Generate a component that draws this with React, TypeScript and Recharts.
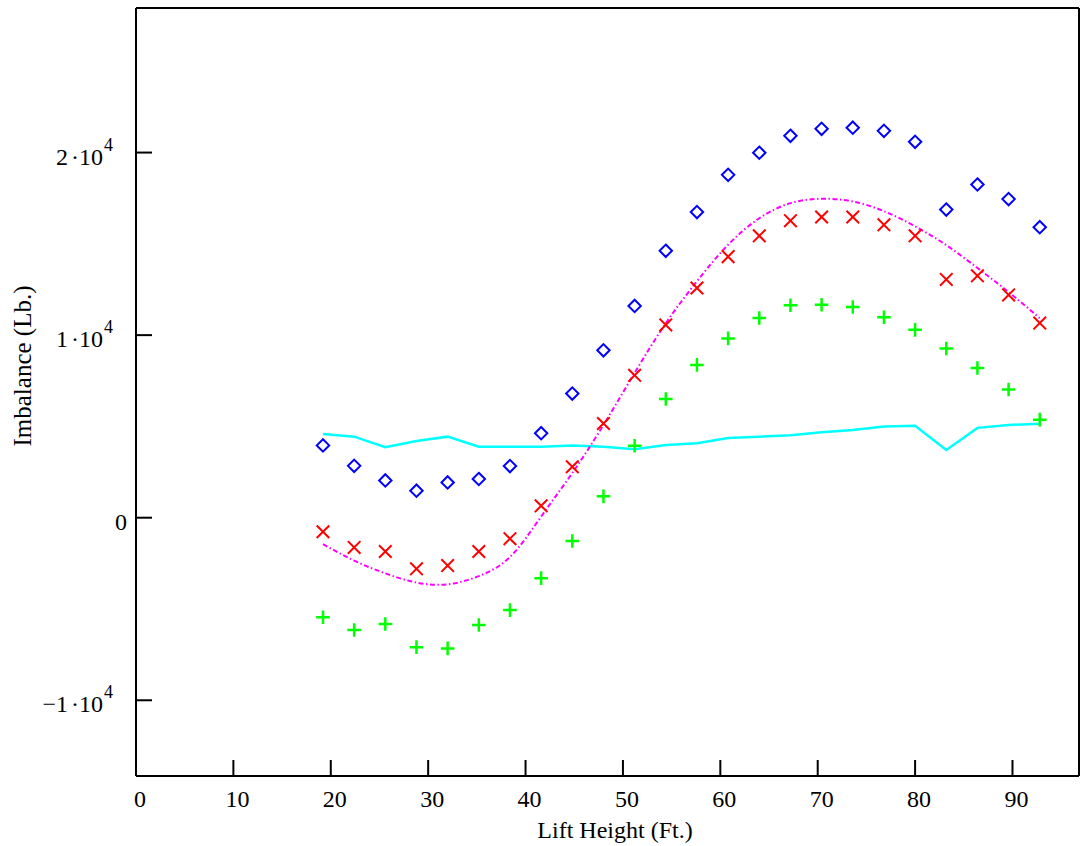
import { ComposedChart, XAxis, YAxis, Line, Scatter } from "recharts";

// lift height (ft.) at each measurement
const lift = [
  19.2, 22.4, 25.6, 28.8, 32.0, 35.2, 38.4, 41.6, 44.8, 48.0, 51.2, 54.4,
  57.6, 60.8, 64.0, 67.2, 70.4, 73.6, 76.8, 80.0, 83.2, 86.4, 89.6, 92.8,
];

// imbalance (lb.)
const diamonds = [
  3960, 2840, 2040, 1480, 1930, 2120, 2830, 4630, 6800, 9170, 11600, 14620,
  16740, 18780, 19990, 20920, 21300, 21360, 21190, 20590, 16880, 18250, 17450, 15910,
];
const crosses = [
  -770, -1630, -1850, -2800, -2620, -1850, -1150, 650, 2790, 5160, 7800, 10560,
  12580, 14300, 15440, 16270, 16470, 16470, 16040, 15440, 13050, 13250, 12200, 10660,
];
const pluses = [
  -5450, -6150, -5820, -7090, -7160, -5880, -5060, -3310, -1280, 1170, 3940, 6500,
  8370, 9820, 10940, 11640, 11660, 11540, 10980, 10290, 9270, 8200, 7020, 5370,
];
const cyanLine = [
  4590, 4440, 3860, 4200, 4440, 3890, 3890, 3890, 3950, 3890, 3750, 3980,
  4080, 4370, 4440, 4520, 4680, 4810, 4990, 5030, 3710, 4920, 5080, 5150,
];
const fitCurve = [
  -1450, -2350, -3050, -3550, -3650, -3200, -2150, 60, 2450, 5080, 7930, 10650,
  12950, 14950, 16400, 17230, 17470, 17320, 16790, 15960, 14930, 13680, 12360, 10930,
];

const xTicks = [0, 10, 20, 30, 40, 50, 60, 70, 80, 90];
const yTicks = [-10000, 0, 10000, 20000];

const data = lift.map((x, i) => ({
  x,
  diamond: diamonds[i],
  cross: crosses[i],
  plus: pluses[i],
  cyan: cyanLine[i],
  fit: fitCurve[i],
}));

const FONT = '"Liberation Serif", "Times New Roman", serif';
const X_DOMAIN = [0, 96.83];
const Y_DOMAIN = [-14148, 27918];

const Diamond = (p: any) => {
  const { cx, cy } = p;
  if (cx == null || cy == null) return null;
  const r = 6.2;
  return (
    <path
      d={`M${cx},${cy - r}L${cx + r},${cy}L${cx},${cy + r}L${cx - r},${cy}Z`}
      fill="none"
      stroke="#0000ff"
      strokeWidth={2}
    />
  );
};

const Cross = (p: any) => {
  const { cx, cy } = p;
  if (cx == null || cy == null) return null;
  const r = 6.3;
  return (
    <path
      d={`M${cx - r},${cy - r}L${cx + r},${cy + r}M${cx - r},${cy + r}L${cx + r},${cy - r}`}
      stroke="#ff0000"
      strokeWidth={2}
    />
  );
};

const Plus = (p: any) => {
  const { cx, cy } = p;
  if (cx == null || cy == null) return null;
  const r = 6.8;
  return (
    <path
      d={`M${cx - r},${cy}L${cx + r},${cy}M${cx},${cy - r}L${cx},${cy + r}`}
      stroke="#00ff00"
      strokeWidth={2.5}
    />
  );
};

const BottomTick = (p: any) => (
  <text x={p.x + 4} y={p.y + 31} textAnchor="middle" fontSize={24} fontFamily={FONT} fill="#000">
    {p.payload.value}
  </text>
);

const LeftTick = (p: any) => {
  const v = p.payload.value;
  if (v === 0) {
    return (
      <text x={p.x - 9} y={p.y + 12} textAnchor="end" fontSize={24} fontFamily={FONT} fill="#000">
        0
      </text>
    );
  }
  const m = v / 10000;
  const lead = m < 0 ? `\u2212${-m}` : `${m}`;
  return (
    <text x={p.x - 23} y={p.y + 12} textAnchor="end" fontSize={24} fontFamily={FONT} fill="#000">
      <tspan>{lead}</tspan>
      <tspan dx={3}>{"\u00b710"}</tspan>
      <tspan dx={1} dy={-14} fontSize={18}>4</tspan>
    </text>
  );
};

export default function App() {
  return (
    <div style={{ position: "absolute", left: 0, top: 0 }}>
      <ComposedChart
        width={1080}
        height={846}
        data={data}
        margin={{ top: 7, right: 0, bottom: 0, left: 0 }}
      >
        <XAxis
          xAxisId="b"
          type="number"
          dataKey="x"
          domain={X_DOMAIN}
          ticks={xTicks}
          allowDataOverflow
          height={70}
          axisLine={{ stroke: "#000", strokeWidth: 2 }}
          tickLine={{ stroke: "#000", strokeWidth: 2 }}
          tickSize={-16}
          tickMargin={16}
          tick={BottomTick}
          interval={0}
        />
        <XAxis
          xAxisId="t"
          orientation="top"
          type="number"
          dataKey="x"
          domain={X_DOMAIN}
          ticks={xTicks}
          allowDataOverflow
          height={1}
          axisLine={{ stroke: "#000", strokeWidth: 2 }}
          tickLine={{ stroke: "#000", strokeWidth: 2 }}
          tickSize={-16}
          tick={false}
          interval={0}
        />
        <YAxis
          yAxisId="l"
          type="number"
          domain={Y_DOMAIN}
          ticks={yTicks}
          allowDataOverflow
          width={136}
          axisLine={{ stroke: "#000", strokeWidth: 2 }}
          tickLine={{ stroke: "#000", strokeWidth: 2 }}
          tickSize={-16}
          tickMargin={16}
          tick={LeftTick}
          interval={0}
        />
        <YAxis
          yAxisId="r"
          orientation="right"
          type="number"
          domain={Y_DOMAIN}
          ticks={yTicks}
          allowDataOverflow
          width={1}
          axisLine={{ stroke: "#000", strokeWidth: 2 }}
          tickLine={{ stroke: "#000", strokeWidth: 2 }}
          tickSize={-16}
          tick={false}
          interval={0}
        />

        <Line
          xAxisId="b"
          yAxisId="l"
          dataKey="cyan"
          stroke="#00ffff"
          strokeWidth={2.5}
          dot={false}
          activeDot={false}
          type="linear"
          isAnimationActive={false}
        />
        <Line
          xAxisId="b"
          yAxisId="l"
          dataKey="fit"
          stroke="#ff00ff"
          strokeWidth={2}
          strokeDasharray="5 2.5 1.5 2.5"
          dot={false}
          activeDot={false}
          type="natural"
          isAnimationActive={false}
        />
        <Scatter xAxisId="b" yAxisId="l" dataKey="diamond" shape={Diamond} isAnimationActive={false} />
        <Scatter xAxisId="b" yAxisId="l" dataKey="cross" shape={Cross} isAnimationActive={false} />
        <Scatter xAxisId="b" yAxisId="l" dataKey="plus" shape={Plus} isAnimationActive={false} />

        <text x={615} y={838} textAnchor="middle" fontSize={24} fontFamily={FONT} fill="#000">
          Lift Height (Ft.)
        </text>
        <text
          x={0}
          y={0}
          transform="translate(31,366) rotate(-90)"
          textAnchor="middle"
          fontSize={25}
          fontFamily={FONT}
          fill="#000"
        >
          Imbalance (Lb.)
        </text>
      </ComposedChart>
    </div>
  );
}
